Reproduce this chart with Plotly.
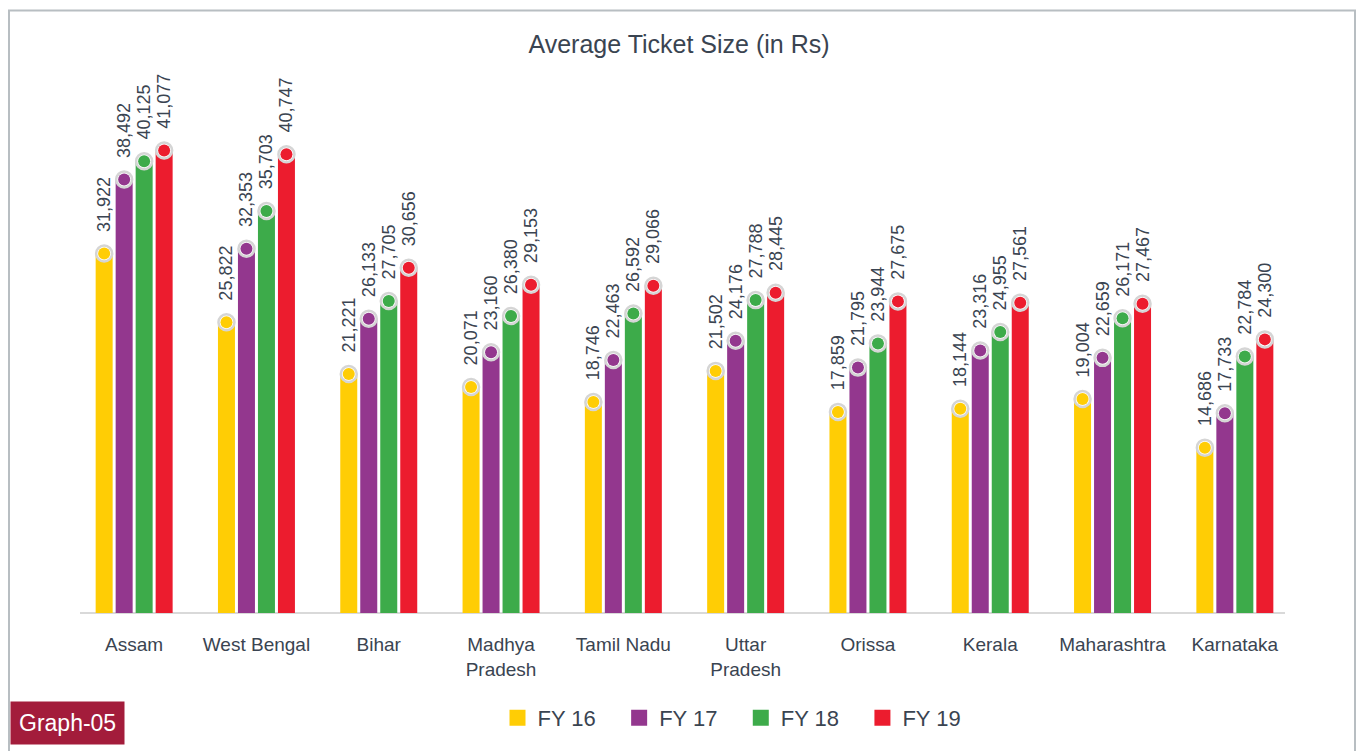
import plotly.graph_objects as go

states = ["Assam", "West Bengal", "Bihar", "Madhya<br>Pradesh", "Tamil Nadu",
          "Uttar<br>Pradesh", "Orissa", "Kerala", "Maharashtra", "Karnataka"]
fy16 = [31922, 25822, 21221, 20071, 18746, 21502, 17859, 18144, 19004, 14686]
fy17 = [38492, 32353, 26133, 23160, 22463, 24176, 21795, 23316, 22659, 17733]
fy18 = [40125, 35703, 27705, 26380, 26592, 27788, 23944, 24955, 26171, 22784]
fy19 = [41077, 40747, 30656, 29153, 29066, 28445, 27675, 27561, 27467, 24300]
series_names = ["FY 16", "FY 17", "FY 18", "FY 19"]
series_values = [fy16, fy17, fy18, fy19]
colors = ["#FFCD05", "#93378E", "#3DAB4A", "#EC1C2E"]

TEXT = "#3A4451"
FONT = "Liberation Sans, Arial, sans-serif"
PAD = "\u00a0" * 3 + "\u2009"

W, H = 1358, 751
L, R, T, B = 73, 62, 50, 132
PW, PH = W - L - R, H - T - B


def px_x(x):
    return (x - L) / PW


def px_y(y):
    return (H - B - y) / PH


fig = go.Figure()
for name, vals, col in zip(series_names, series_values, colors):
    fig.add_trace(go.Bar(
        name=name, x=states, y=vals, marker=dict(color=col, line=dict(width=0)),
        offsetgroup=name, text=[PAD + f"{v:,}" for v in vals], showlegend=False,
        textposition="outside", textangle=-90, constraintext="none", cliponaxis=False,
        textfont=dict(size=18, color=TEXT, family=FONT),
    ))
# ring markers on top of bars
for name, vals, col in zip(series_names, series_values, colors):
    fig.add_trace(go.Scatter(
        x=states, y=vals, mode="markers", offsetgroup=name, showlegend=False,
        hoverinfo="skip", cliponaxis=False,
        marker=dict(size=16, color="white", line=dict(color="#D5D5D5", width=2.5)),
    ))
    fig.add_trace(go.Scatter(
        x=states, y=vals, mode="markers", offsetgroup=name, showlegend=False,
        hoverinfo="skip", cliponaxis=False,
        marker=dict(size=12, color=col, line=dict(width=0)),
    ))
# legend entries
for name, col in zip(series_names, colors):
    fig.add_trace(go.Scatter(
        x=[None], y=[None], mode="markers", name=name + "\u00a0" * 3,
        marker=dict(symbol="square", size=17, color=col),
    ))

fig.update_layout(
    width=W, height=H,
    margin=dict(l=L, r=R, t=T, b=B),
    paper_bgcolor="white", plot_bgcolor="white",
    barmode="group", bargap=0.346, bargroupgap=0.15,
    scattermode="group", scattergap=0.346,
    font=dict(family=FONT, color=TEXT),
    title=dict(text="Average Ticket Size (in Rs)", x=0.5, xanchor="center",
               y=1 - 44 / H, yanchor="middle", yref="container",
               font=dict(size=25, color=TEXT, family=FONT)),
    legend=dict(orientation="h", x=px_x(741), xanchor="center", y=px_y(725), yanchor="middle",
                font=dict(size=22, color=TEXT, family=FONT), traceorder="normal",
                itemwidth=30),
    showlegend=True,
)
fig.update_xaxes(showline=False, ticks="",
                 tickfont=dict(size=19, color=TEXT, family=FONT), ticklabelstandoff=18,
                 showgrid=False, zeroline=False)
fig.update_yaxes(range=[0, 50000], visible=False, showgrid=False, zeroline=False)

# baseline, a bit shorter than the plot area as in the original
fig.add_shape(type="line", xref="paper", yref="paper", x0=px_x(80), x1=px_x(1285), y0=0, y1=0,
              line=dict(color="#D9D9D9", width=2), layer="below")
# outer frame
fig.add_shape(type="rect", xref="paper", yref="paper",
              x0=px_x(9), x1=px_x(1355), y0=px_y(780), y1=px_y(10),
              line=dict(color="#B8BEC2", width=2), fillcolor="rgba(0,0,0,0)", layer="below")
fig.add_annotation(text="Graph-05", xref="paper", yref="paper",
                   x=px_x(10), xanchor="left", y=px_y(730), yanchor="middle",
                   showarrow=False, bgcolor="#A31C3B", borderpad=8,
                   font=dict(size=23, color="white", family=FONT))

# drop the default page margin so the figure fills the window exactly
fig.write_html("out.html", config={"displayModeBar": False},
               post_script="document.body.style.margin = '0';")
